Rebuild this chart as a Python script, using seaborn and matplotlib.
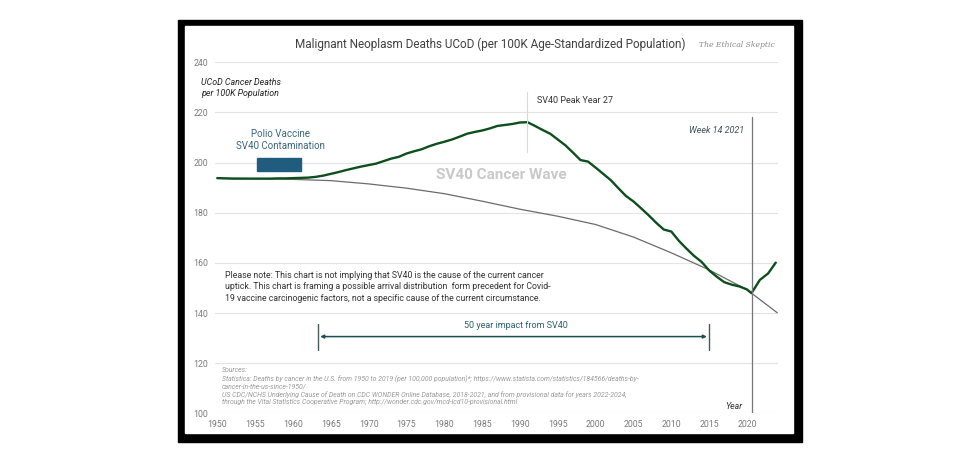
import numpy as np
import pandas as pd
import matplotlib
matplotlib.use("Agg")
import matplotlib.pyplot as plt
import seaborn as sns
from matplotlib.patches import Rectangle

years = list(range(1950, 2021)) + [2020.6, 2021.7, 2022.8, 2023.8]
deaths = [193.8, 193.7, 193.6, 193.6, 193.6, 193.6, 193.6, 193.6, 193.7, 193.7,
          193.8, 193.9, 194.0, 194.3, 194.8, 195.5, 196.2, 197.0, 197.7, 198.4,
          199.0, 199.6, 200.6, 201.6, 202.3, 203.6, 204.5, 205.3, 206.5, 207.5,
          208.3, 209.2, 210.3, 211.5, 212.2, 212.8, 213.6, 214.6, 215.0, 215.4,
          216.0, 216.1, 214.6, 213.0, 211.5, 209.2, 206.9, 204.0, 201.0, 200.4,
          198.0, 195.5, 193.0, 189.8, 186.7, 184.5, 181.8, 179.0, 176.0, 173.3,
          172.5, 168.8, 165.7, 162.8, 160.4, 157.0, 154.5, 152.3, 151.3, 150.6,
          149.4, 147.9, 153.2, 155.8, 160.1]

# baseline trend without the wave
trend_years = [1950, 1955, 1960, 1965, 1970, 1975, 1980, 1985, 1990, 1995,
               2000, 2005, 2010, 2015, 2020, 2024]
trend_vals = [193.8, 193.6, 193.3, 192.8, 191.5, 189.8, 187.6, 184.6, 181.4, 178.6,
              175.3, 170.3, 164.0, 157.2, 149.3, 140.1]

yticks = [100, 120, 140, 160, 180, 200, 220, 240]
xticks = list(range(1950, 2021, 5))

df = pd.DataFrame({"year": years, "deaths": deaths})
trend = pd.DataFrame({"year": trend_years, "deaths": trend_vals})

sns.set_theme(style="white")
plt.rcParams["font.family"] = ["Roboto", "DejaVu Sans"]

fig = plt.figure(figsize=(9.8, 4.61), dpi=100)
fig.patch.set_facecolor("white")

# black picture frame
fig.patches.append(Rectangle((178 / 980, 19 / 461), 624 / 980, 422 / 461,
                             transform=fig.transFigure, color="black", zorder=-2))
fig.patches.append(Rectangle((185 / 980, 28 / 461), 608 / 980, 407 / 461,
                             transform=fig.transFigure, color="white", zorder=-1))

ax = fig.add_axes([215 / 980, 47.7 / 461, 563 / 980, 351 / 461])
ax.patch.set_alpha(0)

sns.lineplot(data=trend, x="year", y="deaths", ax=ax, color="#6b6b6b", lw=0.9)
sns.lineplot(data=df, x="year", y="deaths", ax=ax, color="#0d4f1c", lw=1.7)

ax.set_xlim(1949.7, 2024.1)
ax.set_ylim(100, 240)
ax.set_yticks(yticks)
ax.set_xticks(xticks)
ax.set_xlabel("")
ax.set_ylabel("")
for s in ax.spines.values():
    s.set_visible(False)
ax.grid(axis="y", color="#e3e3e3", lw=0.8)
ax.set_axisbelow(True)
ax.tick_params(axis="both", length=0, labelsize=6.3, labelcolor="#7a7a7a")
ax.tick_params(axis="y", pad=5)
ax.tick_params(axis="x", pad=5)

# polio vaccine block
ax.add_patch(Rectangle((1955.2, 196.7), 5.9, 5.1, color="#1f5c7e", zorder=3))
ax.text(1958.3, 204.5, "Polio Vaccine\nSV40 Contamination", ha="center", va="bottom",
        fontsize=7, color="#3b6478", linespacing=1.25)

# peak marker
ax.plot([1990.9, 1990.9], [204.3, 228.3], color="#d8d8d8", lw=0.8)
ax.text(1992.2, 224.6, "SV40 Peak Year 27", ha="left", va="center", fontsize=6.5,
        color="#333333")

ax.text(1987.6, 195.1, "SV40 Cancer Wave", ha="center", va="center", fontsize=11,
        fontweight="bold", color="#c9c9c9")

# week 14 2021 marker
ax.plot([2020.7, 2020.7], [100, 218.3], color="#777777", lw=0.9)
ax.text(2019.6, 212.8, "Week 14 2021", ha="right", va="center", fontsize=6.5,
        style="italic", color="#3d4f5c")

ax.text(1951, 156.8, "Please note: This chart is not implying that SV40 is the cause of the current cancer\n"
        "uptick. This chart is framing a possible arrival distribution  form precedent for Covid-\n"
        "19 vaccine carcinogenic factors, not a specific cause of the current circumstance.",
        ha="left", va="top", fontsize=6.35, color="#333333", linespacing=1.35)

# 50 year arrow
ax.annotate("", xy=(1963.6, 130.6), xytext=(2014.7, 130.6),
            arrowprops=dict(arrowstyle="<|-|>", color="#1a5050", lw=1.1,
                            mutation_scale=5, shrinkA=0, shrinkB=0))
ax.plot([1963.3, 1963.3], [125.3, 135.6], color="#4a5a5a", lw=1)
ax.plot([2015.0, 2015.0], [125.3, 135.6], color="#4a5a5a", lw=1)
ax.text(1989.5, 135, "50 year impact from SV40", ha="center", va="center",
        fontsize=6.5, color="#2f5f6a")

ax.text(1950.6, 118.3, "Sources:\n"
        "Statistica: Deaths by cancer in the U.S. from 1950 to 2019 (per 100,000 population)*; "
        "https://www.statista.com/statistics/184566/deaths-by-\n"
        "cancer-in-the-us-since-1950/\n"
        "US CDC/NCHS Underlying Cause of Death on CDC WONDER Online Database, 2018-2021, "
        "and from provisional data for years 2022-2024,\n"
        "through the Vital Statistics Cooperative Program; http://wonder.cdc.gov/mcd-icd10-provisional.html",
        ha="left", va="top", fontsize=4.95, style="italic", color="#9a9a9a", linespacing=1.25)

ax.text(2018.2, 102.6, "Year", ha="center", va="center", fontsize=6.3, style="italic",
        color="#333333")

# titles and axis caption
fig.text(490 / 980, 1 - 44 / 461, "Malignant Neoplasm Deaths UCoD (per 100K Age-Standardized Population)",
         ha="center", va="center", fontsize=8.45, color="#404040")
fig.text(737 / 980, 1 - 45 / 461, "The Ethical Skeptic", ha="center", va="center",
         fontsize=5.5, style="italic", color="#8a8a8a", family="DejaVu Serif")
fig.text(201 / 980, 1 - 88 / 461, "UCoD Cancer Deaths\nper 100K Population", ha="left",
         va="center", fontsize=6.4, style="italic", color="#222222", linespacing=1.3)

fig.savefig("out.png", dpi=100)
